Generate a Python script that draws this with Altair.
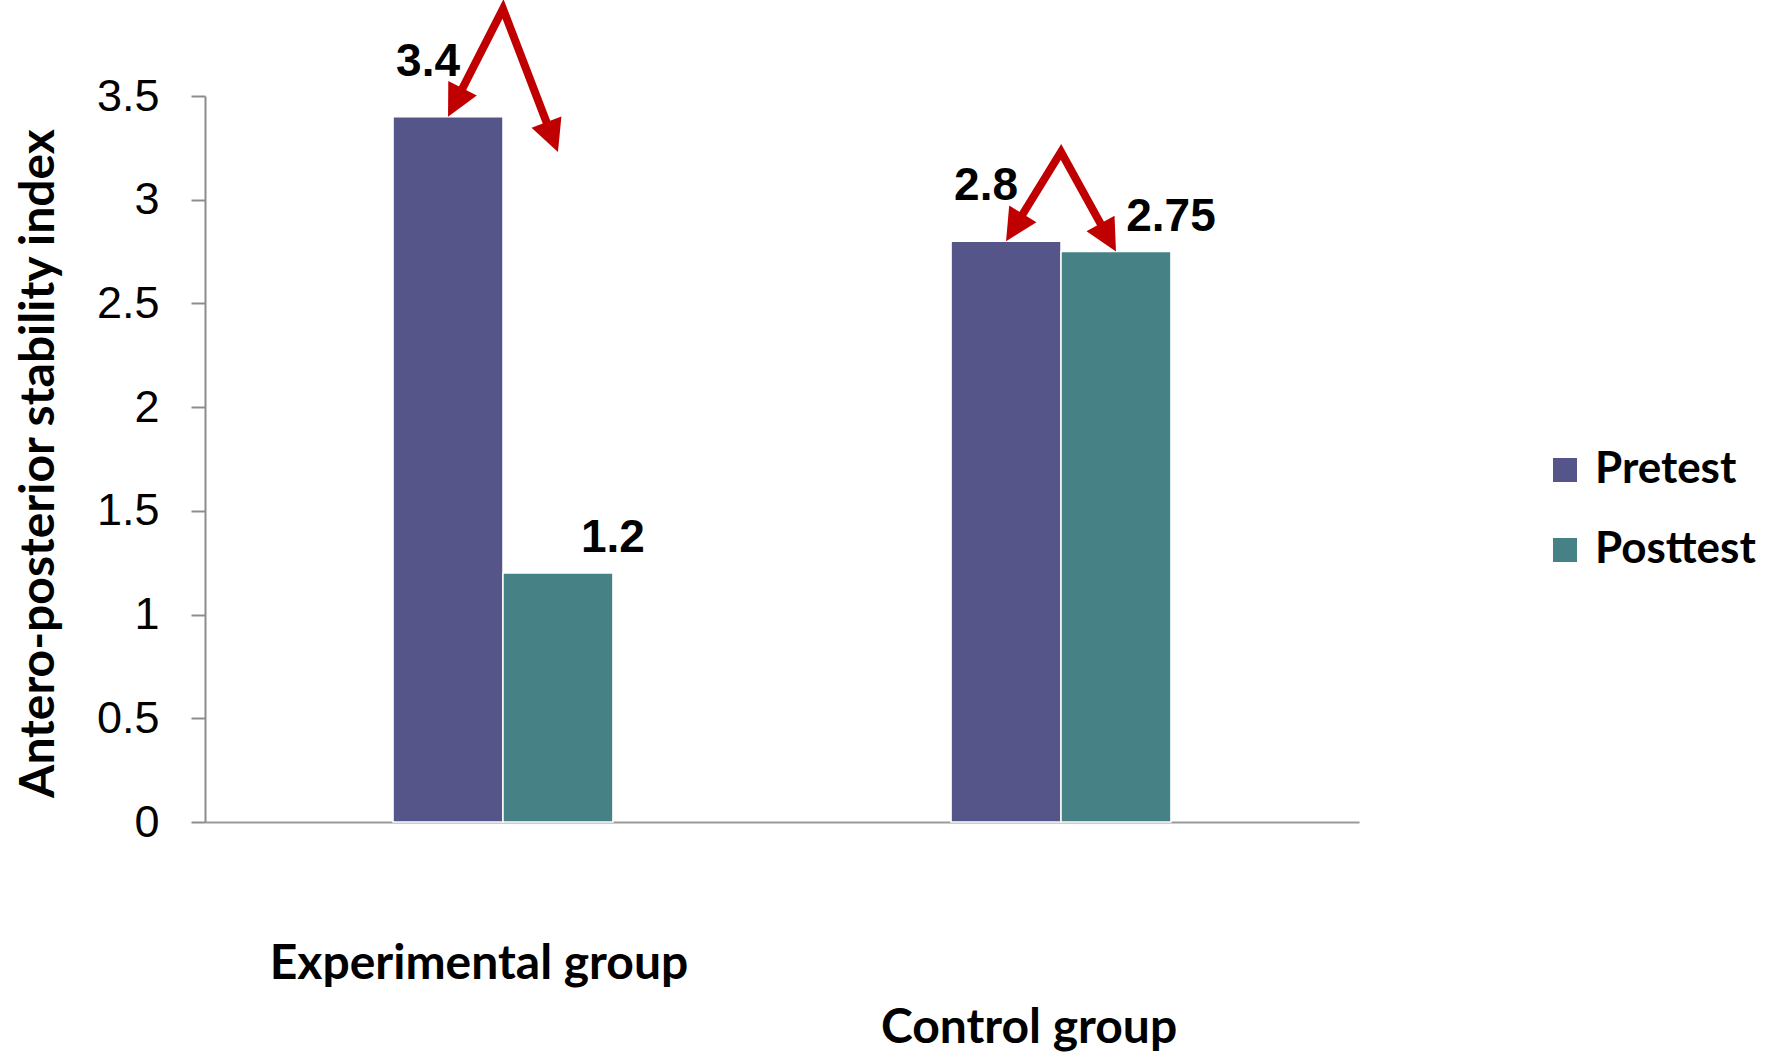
import math
import altair as alt
import pandas as pd

# ---- data -------------------------------------------------------------
groups = ["Experimental group", "Control group"]
series = ["Pretest", "Posttest"]
pretest = [3.4, 2.8]
posttest = [1.2, 2.75]

# red call-out arrows: apex height and the heights the two heads point at
arrow_apex = [3.92, 3.23]
arrow_left = [3.40, 2.80]
arrow_right = [3.23, 2.75]

colors = ["#55558A", "#468285"]

# ---- layout -----------------------------------------------------------
W, H = 1154, 726
Y_MAX = 3.5
PAD_OUTER, BAR_W = 0.337, 0.197          # in units of one group step
X_MAX = 2 + 2 * PAD_OUTER - (1 - 2 * BAR_W)
PX_X, PX_Y = W / X_MAX, H / Y_MAX


def group_center(i):
    return i + PAD_OUTER + BAR_W


def bar_center(i, s):
    return group_center(i) + (s - 0.5) * BAR_W


rows = []
for gi, g in enumerate(groups):
    for si, (s, vals) in enumerate(zip(series, [pretest, posttest])):
        xc = bar_center(gi, si)
        rows.append({"group": g, "series": s, "value": vals[gi],
                     "x0": xc - BAR_W / 2, "x1": xc + BAR_W / 2, "xc": xc,
                     "label": f"{vals[gi]:g}"})
bars_df = pd.DataFrame(rows)

# arrow shafts (apex joined to both heads) and rotated heads
HEAD = 32
shaft_rows, head_rows = [], []
for gi, g in enumerate(groups):
    ax, ay = group_center(gi), arrow_apex[gi]
    ends = [(bar_center(gi, 0), arrow_left[gi]), (bar_center(gi, 1), arrow_right[gi])]
    pts = []
    for tx, ty in ends:
        dx = (tx - ax) * PX_X
        dy = (ay - ty) * PX_Y
        length = math.hypot(dx, dy)
        back = 22 / length
        pts.append((tx - (tx - ax) * back, ty + (ay - ty) * back))
        head_rows.append({"group": g, "x": tx, "y": ty,
                          "angle": (math.degrees(math.atan2(-dx, dy)) + 360) % 360})
    for k, (px, py) in enumerate([pts[0], (ax, ay), pts[1]]):
        shaft_rows.append({"group": g, "ord": k, "x": px, "y": py})
shaft_df = pd.DataFrame(shaft_rows)
head_df = pd.DataFrame(head_rows)

cat_df = pd.DataFrame({"group": groups, "xc": [group_center(i) for i in range(len(groups))]})

TITLE_FONT = "Lato"
NUM_FONT = "Liberation Sans"

xs = alt.Scale(domain=[0, X_MAX], nice=False, zero=False)
ys = alt.Scale(domain=[0, Y_MAX], nice=False)

bars = alt.Chart(bars_df).mark_rect(stroke="white", strokeWidth=1.5).encode(
    x=alt.X("x0:Q", scale=xs,
            axis=alt.Axis(title=None, labels=False, ticks=False, grid=False,
                          domainColor="#9a9a9a", domainWidth=2)),
    x2="x1:Q",
    y=alt.Y("value:Q", scale=ys,
            axis=alt.Axis(title="Antero-posterior stability index", values=[0, 0.5, 1, 1.5, 2, 2.5, 3, 3.5],
                          format="~g", grid=False, labelFont=NUM_FONT, labelFontSize=45, labelColor="black",
                          labelPadding=32, tickSize=14, tickWidth=2, tickColor="#8c8c8c",
                          domainColor="#8c8c8c", domainWidth=2,
                          titleFont=TITLE_FONT, titleFontSize=48, titleFontWeight="bold",
                          titleColor="black", titleAngle=270, titleAlign="center",
                          titleBaseline="alphabetic", titleX=-152, titleY=H / 2 + 4)),
    y2=alt.datum(0),
    color=alt.Color("series:N", scale=alt.Scale(domain=series, range=colors),
                    legend=alt.Legend(title=None, orient="none", legendX=1338, legendY=352,
                                      symbolType="square", symbolSize=576, symbolStrokeWidth=0,
                                      labelFont=TITLE_FONT, labelFontSize=44, labelFontWeight="bold",
                                      labelColor="black", labelOffset=8, labelLimit=0,
                                      rowPadding=36, padding=0)),
)


def value_labels(name, dx, dy):
    return alt.Chart(bars_df).transform_filter(alt.datum.series == name).mark_text(
        font=NUM_FONT, fontSize=46, fontWeight="bold", color="black", dx=dx, dy=dy,
        baseline="middle", align="center"
    ).encode(x=alt.X("xc:Q", scale=xs), y=alt.Y("value:Q", scale=ys), text="label:N")


shafts = alt.Chart(shaft_df).mark_line(
    color="#C00000", strokeWidth=8, strokeJoin="miter", strokeMiterLimit=20, strokeCap="butt"
).encode(x=alt.X("x:Q", scale=xs), y=alt.Y("y:Q", scale=ys), detail="group:N", order="ord:Q")

heads = alt.Chart(head_df).mark_point(
    shape="M0,0L-1,-2L1,-2Z", size=HEAD * HEAD, filled=True, color="#C00000", opacity=1
).encode(x=alt.X("x:Q", scale=xs), y=alt.Y("y:Q", scale=ys), angle=alt.Angle("angle:Q", scale=None))


def category_label(name, y_px, dx):
    return alt.Chart(cat_df).transform_filter(alt.datum.group == name).mark_text(
        font=TITLE_FONT, fontSize=48, fontWeight="bold", color="black",
        baseline="alphabetic", align="center", dx=dx
    ).encode(x=alt.X("xc:Q", scale=xs), y=alt.value(y_px), text="group:N")


chart = alt.layer(
    bars,
    value_labels("Pretest", -20, -55),
    value_labels("Posttest", 55, -35),
    shafts,
    heads,
    category_label("Experimental group", 883, -24),
    category_label("Control group", 947, -32),
).properties(
    width=W, height=H,
    background="white",
    autosize=alt.AutoSizeParams(type="none"),
    padding={"left": 205, "top": 96, "right": 1769 - 205 - W, "bottom": 1055 - 96 - H},
).configure_view(stroke=None)

chart.save("out.html", embed_options={"renderer": "svg", "actions": False})
